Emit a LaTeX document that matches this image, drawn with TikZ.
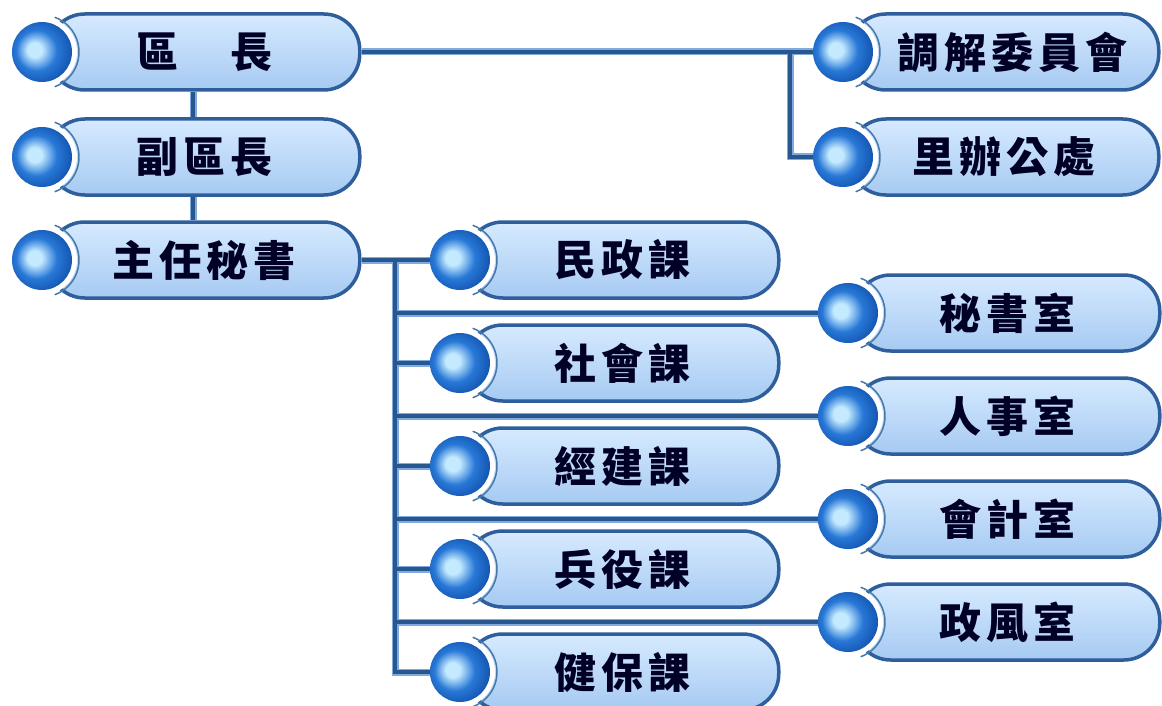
\documentclass[tikz,border=0pt]{standalone}
\usepackage{fontspec}
\usepackage{tikz}
\newfontfamily\cjk{Noto Sans CJK TC}[LetterSpace=12]
\definecolor{rim}{RGB}{46,94,156}
\definecolor{ringline}{RGB}{70,120,170}
\definecolor{barlight}{RGB}{214,234,255}
\definecolor{bardark}{RGB}{166,202,242}
\definecolor{knobhi}{RGB}{196,234,255}
\definecolor{knobmid}{RGB}{40,120,215}
\definecolor{knobedge}{RGB}{16,80,170}
\definecolor{knobrim}{RGB}{12,58,138}
\definecolor{linkdark}{RGB}{40,86,142}
\definecolor{linklight}{RGB}{128,170,222}
\pgfdeclareradialshading{knobshade}{\pgfpoint{-7bp}{2bp}}{%
  color(0bp)=(knobhi); color(6bp)=(knobhi); color(17bp)=(knobmid);
  color(30bp)=(knobedge); color(50bp)=(knobrim)}
\tikzset{
  bar/.style={draw=rim, line width=3.5pt, rounded corners=36pt,
    minimum height=76pt, inner sep=0pt, top color=barlight, bottom color=bardark,
    font=\cjk\bfseries\fontsize{42}{46}\selectfont, text=black!85!blue},
  knob/.style={circle, minimum size=60pt, inner sep=0pt, shading=knobshade},
  link/.style={line width=3.2pt, draw=linkdark,
    preaction={draw=linklight, line width=7pt}},
}
% one box: name, knob x, y, body width, text
\newcommand{\orgunit}[5]{%
  \node[bar, minimum width=#4, anchor=west] (#1) at (#2+5,#3) {#5};
  \draw[ringline, line width=1.5pt] (#2,#3) ++(-70:37) arc[start angle=-70, end angle=70, radius=37];
  \fill[white] (#2,#3) circle (35);
  \node[knob] (#1-k) at (#2,#3) {};
}

\begin{document}
\begin{tikzpicture}[x=1pt, y=-1pt]
  \useasboundingbox[fill=white] (0,0) rectangle (1162,706);
  % left column
  \orgunit{chief}{42}{52}{311}{區　長}
  \orgunit{deputy}{42}{157}{311}{副區長}
  \orgunit{sec}{42}{260}{311}{主任秘書}
  % committees
  \orgunit{mediate}{843}{52}{309}{\hspace*{16pt}調解委員會}
  \orgunit{li}{843}{157}{309}{里辦公處}
  % sections
  \foreach \nm/\y/\txt in {civil/260/民政課, social/363/社會課, econ/466/經建課,
      army/569/兵役課, health/672/健保課}
    \orgunit{\nm}{460}{\y}{312}{\txt};
  % offices
  \foreach \nm/\y/\txt in {secr/313/秘書室, pers/416/人事室, acct/519/會計室,
      ethic/622/政風室}
    \orgunit{\nm}{848}{\y}{305}{\txt};

  \coordinate (t0) at (193,0);
  \coordinate (t1) at (790,52);
  \coordinate (t2) at (395,260);
  \draw[link] (chief.south -| t0) -- (deputy.north -| t0)
    (deputy.south -| t0) -- (sec.north -| t0);
  \draw[link] (chief.east) -- (mediate-k.west) (t1) |- (li-k.west);
  \draw[link] (sec.east) -- (civil-k.west) (t2) |- (health-k.west)
    \foreach \nm in {social,econ,army,secr,pers,acct,ethic} {
      (t2 |- \nm-k.west) -- (\nm-k.west)};
\end{tikzpicture}
\end{document}
